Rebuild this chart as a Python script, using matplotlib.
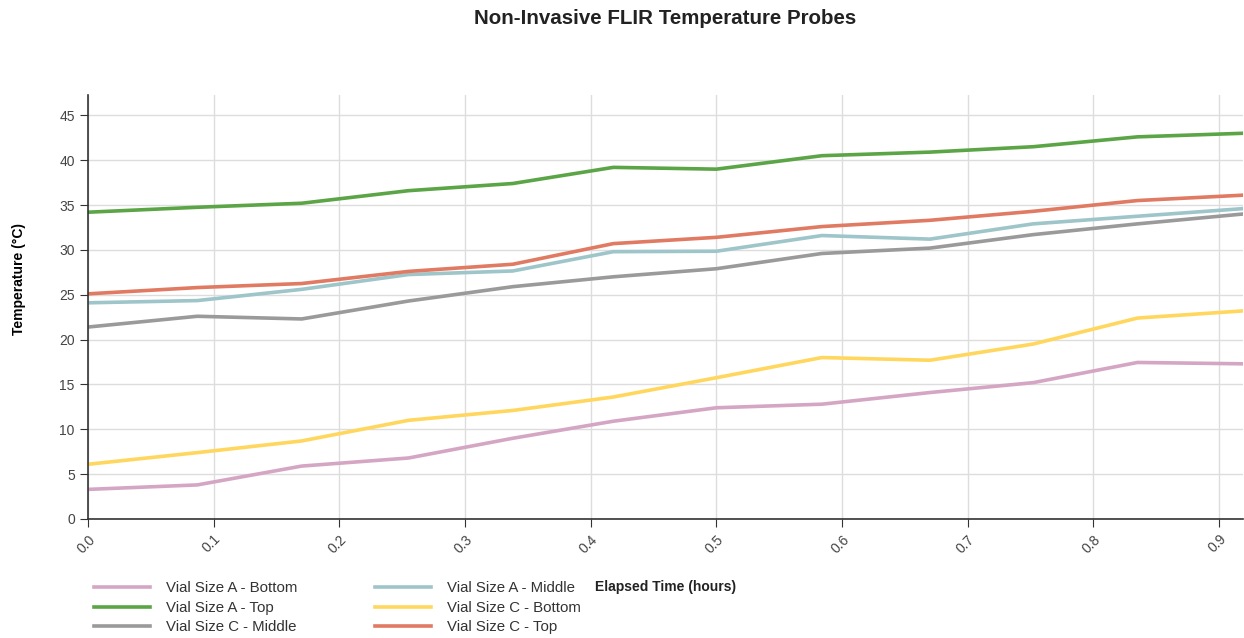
import matplotlib
matplotlib.use("Agg")
import matplotlib.pyplot as plt

plt.rcParams['font.family'] = ['Liberation Sans', 'DejaVu Sans']

# elapsed time (hours) of each reading
hours = [0.0, 0.087, 0.170, 0.255, 0.338, 0.418, 0.500, 0.584, 0.670, 0.752, 0.835, 0.919]

# temperatures (°C) per probe
a_bottom = [3.3, 3.8, 5.9, 6.8, 9.0, 10.9, 12.4, 12.8, 14.1, 15.2, 17.45, 17.3]
a_top = [34.2, 34.75, 35.2, 36.6, 37.4, 39.2, 39.0, 40.5, 40.9, 41.5, 42.6, 43.0]
c_middle = [21.4, 22.6, 22.3, 24.3, 25.9, 27.0, 27.9, 29.6, 30.2, 31.7, 32.9, 34.0]
a_middle = [24.1, 24.35, 25.6, 27.25, 27.65, 29.8, 29.85, 31.6, 31.2, 32.9, 33.75, 34.6]
c_bottom = [6.1, 7.4, 8.7, 11.0, 12.1, 13.6, 15.75, 18.0, 17.7, 19.5, 22.4, 23.2]
c_top = [25.1, 25.8, 26.25, 27.6, 28.4, 30.7, 31.4, 32.6, 33.3, 34.3, 35.5, 36.1]

series = [
    ("Vial Size A - Bottom", a_bottom, "#d4a6c4"),
    ("Vial Size A - Top", a_top, "#5ba547"),
    ("Vial Size C - Middle", c_middle, "#9a9a9a"),
    ("Vial Size A - Middle", a_middle, "#9ec5c9"),
    ("Vial Size C - Bottom", c_bottom, "#ffd75e"),
    ("Vial Size C - Top", c_top, "#e07a62"),
]

fig = plt.figure(figsize=(12.44, 6.38), dpi=100)
ax = fig.add_axes([88 / 1244, 1 - 519 / 638, (1243 - 88) / 1244, (519 - 94.7) / 638])

for name, vals, col in series:
    ax.plot(hours, vals, color=col, linewidth=2.6, label=name)

ax.set_xlim(0, hours[-1])
ax.set_ylim(0, 47.3)
ax.set_xticks([0.0, 0.1, 0.2, 0.3, 0.4, 0.5, 0.6, 0.7, 0.8, 0.9])
ax.set_yticks(range(0, 50, 5))
ax.grid(True, color="#dddddd", linewidth=1)
ax.set_axisbelow(True)
for s in ["top", "right"]:
    ax.spines[s].set_visible(False)
for s in ["left", "bottom"]:
    ax.spines[s].set_color("#333333")
    ax.spines[s].set_linewidth(1.2)
ax.tick_params(axis="both", labelsize=10, colors="#333333", labelcolor="#444444", length=6)
plt.setp(ax.get_xticklabels(), rotation=45, ha="right", rotation_mode="anchor")

fig.text(665 / 1244, 1 - 18 / 638, "Non-Invasive FLIR Temperature Probes",
         ha="center", va="center", fontsize=14.8, fontweight="bold", color="#222222")
fig.text(19 / 1244, 1 - 279 / 638, "Temperature (°C)", rotation=90,
         ha="center", va="center", fontsize=10, fontweight="bold")
fig.text(666 / 1244, 1 - 587 / 638, "Elapsed Time (hours)",
         ha="center", va="center", fontsize=10, fontweight="bold", color="#222222")

ax.legend(loc="upper left", bbox_to_anchor=(80 / 1244, 1 - 568 / 638),
          bbox_transform=fig.transFigure, ncol=2, frameon=False, fontsize=10.8,
          handlelength=3.75, handletextpad=1.05, columnspacing=5.2,
          labelspacing=0.35, labelcolor="#333333")

fig.savefig("out.png", dpi=100)
